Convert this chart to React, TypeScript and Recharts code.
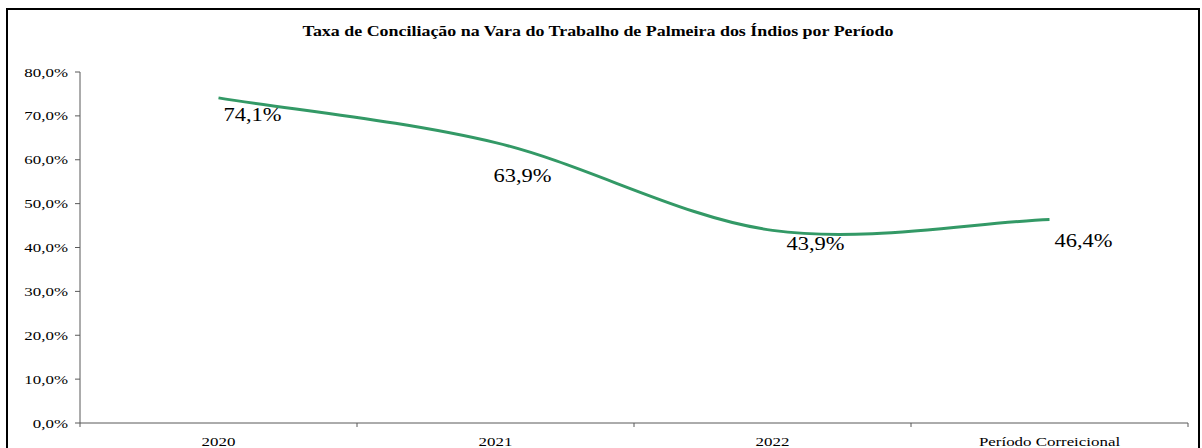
import { LineChart, Line, XAxis, YAxis, LabelList } from "recharts";

const categories = ["2020", "2021", "2022", "Período Correicional"];
const rates = [74.1, 63.9, 43.9, 46.4];
const yTicks = [0, 10, 20, 30, 40, 50, 60, 70, 80];
// category centres plus the boundaries between them (Excel style tick marks)
const xTicks = [-0.5, 0, 0.5, 1, 1.5, 2, 2.5, 3, 3.5];

const data = categories.map((name, idx) => ({ idx, name, rate: rates[idx] }));

const FONT = '"Liberation Serif", "Times New Roman", serif';
const AXIS = "#595959";
const GREEN = "#339966";
const STRETCH = 1.3;

// label nudges (dx, dy) as in the source chart
const labelNudge = [
  [5, 23],
  [-2, 39],
  [14, 20],
  [5, 28],
];

const pct = (v: number) => v.toFixed(1).replace(".", ",") + "%";

// Catmull-Rom style smoothing similar to Excel's smoothed line
const smoothCurve = (context: any) => {
  let pts: number[][] = [];
  return {
    areaStart() {},
    areaEnd() {},
    lineStart() {
      pts = [];
    },
    point(x: number, y: number) {
      pts.push([+x, +y]);
    },
    lineEnd() {
      const n = pts.length;
      if (!n) return;
      context.moveTo(pts[0][0], pts[0][1]);
      const tan = pts.map((p, i) => {
        const a = pts[Math.max(0, i - 1)];
        const b = pts[Math.min(n - 1, i + 1)];
        const k = i === 0 || i === n - 1 ? 0.8 : 0.5;
        return [(b[0] - a[0]) * k, (b[1] - a[1]) * k];
      });
      for (let i = 0; i < n - 1; i++) {
        const p = pts[i];
        const q = pts[i + 1];
        context.bezierCurveTo(
          p[0] + tan[i][0] / 3,
          p[1] + tan[i][1] / 3,
          q[0] - tan[i + 1][0] / 3,
          q[1] - tan[i + 1][1] / 3,
          q[0],
          q[1]
        );
      }
    },
  };
};

const XTick = (props: any) => {
  const { x, y, payload } = props;
  const v = payload.value;
  if (Number.isInteger(v)) {
    return (
      <text
        transform={`translate(${x},${y + 23}) scale(${STRETCH},1)`}
        textAnchor="middle"
        fontFamily={FONT}
        fontSize={13}
        fill="#000"
      >
        {categories[v]}
      </text>
    );
  }
  return <line x1={x} x2={x} y1={y} y2={y + 4} stroke={AXIS} strokeWidth={1} />;
};

const YTick = (props: any) => {
  const { x, y, payload } = props;
  return (
    <text
      transform={`translate(${x},${y}) scale(${STRETCH},1)`}
      textAnchor="end"
      dy="0.35em"
      fontFamily={FONT}
      fontSize={13}
      fill="#000"
    >
      {pct(payload.value)}
    </text>
  );
};

const PointLabel = (props: any) => {
  const { x, y, value, index } = props;
  const [dx, dy] = labelNudge[index] || [5, 24];
  return (
    <text
      transform={`translate(${x + dx},${y + dy}) scale(1.25,1)`}
      textAnchor="start"
      fontFamily={FONT}
      fontSize={18}
      fill="#000"
    >
      {pct(value)}
    </text>
  );
};

export default function App() {
  return (
    <div
      style={{
        position: "absolute",
        left: 6,
        top: 8,
        width: 1194,
        height: 440,
        border: "2px solid #000",
        borderBottom: "none",
        boxSizing: "border-box",
        background: "#fff",
        overflow: "hidden",
      }}
    >
      <div
        style={{
          position: "absolute",
          top: 14,
          left: 0,
          width: "100%",
          textAlign: "center",
          fontFamily: FONT,
          fontWeight: "bold",
          fontSize: 14,
          color: "#000",
          transform: "translateX(-5px) scaleX(1.28)",
        }}
      >
        Taxa de Conciliação na Vara do Trabalho de Palmeira dos Índios por Período
      </div>
      <LineChart
        width={1190}
        height={438}
        data={data}
        margin={{ top: 62, right: 10, bottom: 0, left: 0 }}
      >
        <XAxis
          dataKey="idx"
          type="number"
          domain={[-0.5, 3.5]}
          ticks={xTicks}
          interval={0}
          allowDataOverflow
          height={25}
          tickSize={0}
          tickMargin={0}
          tickLine={false}
          axisLine={{ stroke: AXIS, strokeWidth: 1 }}
          tick={<XTick />}
        />
        <YAxis
          domain={[0, 80]}
          ticks={yTicks}
          interval={0}
          width={72}
          tickSize={5}
          tickMargin={7}
          tickLine={{ stroke: AXIS }}
          axisLine={{ stroke: AXIS, strokeWidth: 1 }}
          tick={<YTick />}
        />
        <Line
          dataKey="rate"
          type={smoothCurve as any}
          stroke={GREEN}
          strokeWidth={3}
          dot={false}
          activeDot={false}
          isAnimationActive={false}
        >
          <LabelList dataKey="rate" content={<PointLabel />} />
        </Line>
      </LineChart>
    </div>
  );
}
